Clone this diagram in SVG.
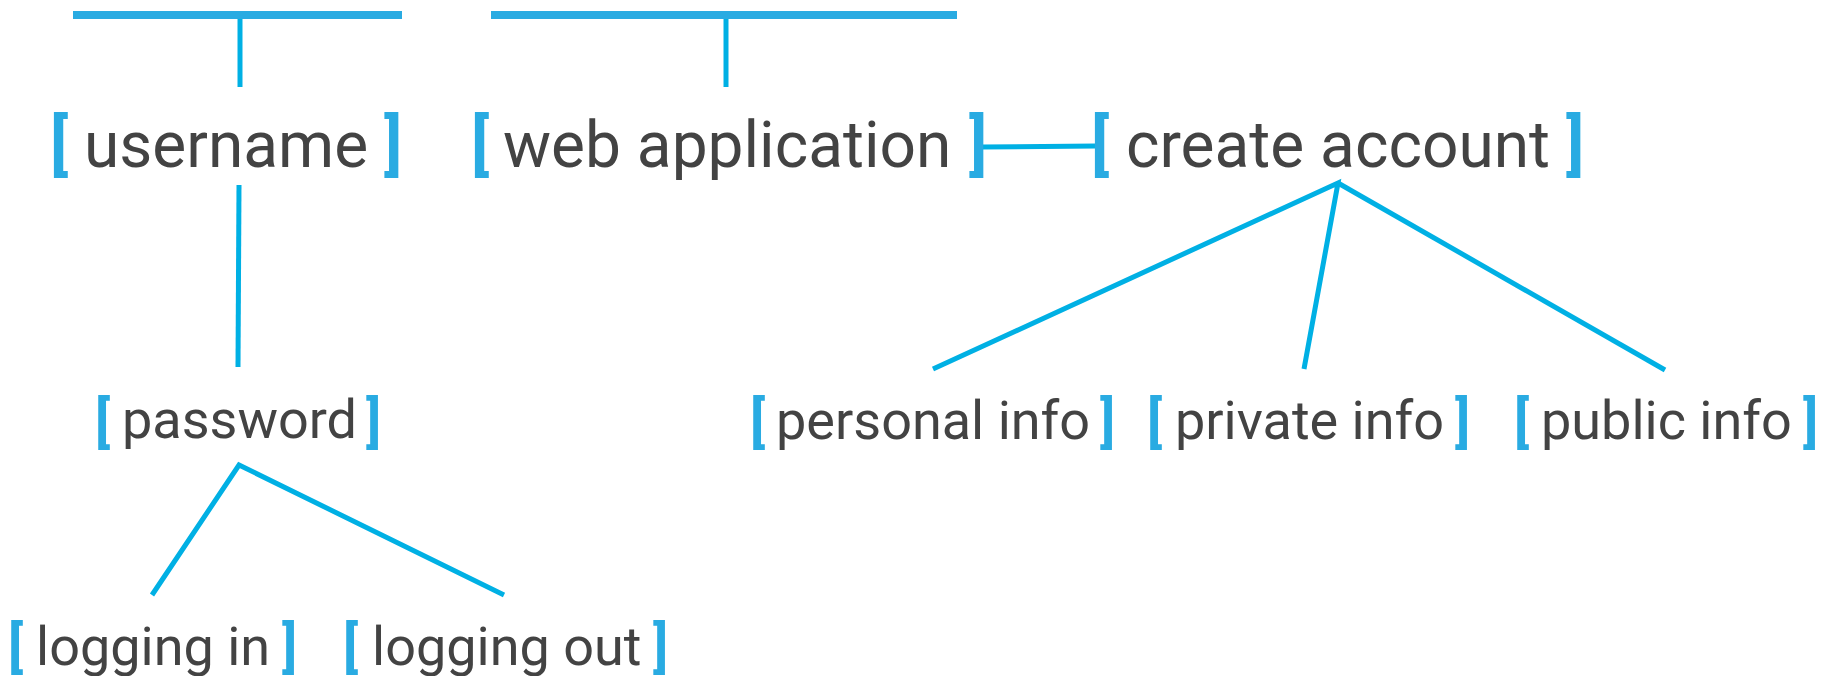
<svg xmlns="http://www.w3.org/2000/svg" width="1821" height="676" viewBox="0 0 1821 676">
<style>
  .t1{font-family:Roboto,"Liberation Sans",sans-serif;font-size:64px;fill:#434343}
  .t2{font-family:Roboto,"Liberation Sans",sans-serif;font-size:54px;fill:#434343}
  .b1{font-family:Roboto,"Liberation Sans",sans-serif;font-weight:bold;font-size:66px;fill:#29abe2}
  .b2{font-family:Roboto,"Liberation Sans",sans-serif;font-weight:bold;font-size:55px;fill:#29abe2}
  .bar{stroke:#29abe2;stroke-width:8;fill:none}
  .ln{stroke:#00b0e4;stroke-width:5;fill:none}
</style>
<g id="connectors">
  <line class="bar" x1="73" y1="15" x2="402" y2="15"/>
  <line class="ln" x1="240" y1="19" x2="240" y2="87"/>
  <line class="bar" x1="491" y1="15" x2="957" y2="15"/>
  <line class="ln" x1="726" y1="19" x2="726" y2="87"/>
  <line class="ln" x1="239" y1="185" x2="238" y2="367"/>
  <line class="ln" x1="982" y1="147" x2="1096" y2="146"/>
  <polyline class="ln" points="933,369 1338,183 1304,369"/>
  <line class="ln" x1="1338" y1="183" x2="1665" y2="370"/>
  <polyline class="ln" points="152,595 239,465 504,595"/>
</g>
<g id="n-username"><text><tspan class="b1" x="50" y="167">[</tspan><tspan class="t1" x="84" y="167">username</tspan><tspan class="b1" x="384" y="167">]</tspan></text></g>
<g id="n-webapp"><text><tspan class="b1" x="471" y="167">[</tspan><tspan class="t1" x="503" y="167">web application</tspan><tspan class="b1" x="969" y="167">]</tspan></text></g>
<g id="n-create"><text><tspan class="b1" x="1091" y="167">[</tspan><tspan class="t1" x="1126" y="167">create account</tspan><tspan class="b1" x="1566" y="167">]</tspan></text></g>
<g id="n-password"><text><tspan class="b2" x="95" y="441">[</tspan><tspan class="t2" x="122" y="438">password</tspan><tspan class="b2" x="366" y="441">]</tspan></text></g>
<g id="n-personal"><text><tspan class="b2" x="750" y="441">[</tspan><tspan class="t2" x="776" y="439">personal info</tspan><tspan class="b2" x="1100" y="441">]</tspan></text></g>
<g id="n-private"><text><tspan class="b2" x="1147" y="441">[</tspan><tspan class="t2" x="1175" y="439">private info</tspan><tspan class="b2" x="1455" y="441">]</tspan></text></g>
<g id="n-public"><text><tspan class="b2" x="1514" y="441">[</tspan><tspan class="t2" x="1541" y="439">public info</tspan><tspan class="b2" x="1803" y="441">]</tspan></text></g>
<g id="n-login"><text><tspan class="b2" x="8" y="666">[</tspan><tspan class="t2" x="36" y="665">logging in</tspan><tspan class="b2" x="282" y="666">]</tspan></text></g>
<g id="n-logout"><text><tspan class="b2" x="343" y="666">[</tspan><tspan class="t2" x="372" y="665">logging out</tspan><tspan class="b2" x="653" y="666">]</tspan></text></g>
</svg>
